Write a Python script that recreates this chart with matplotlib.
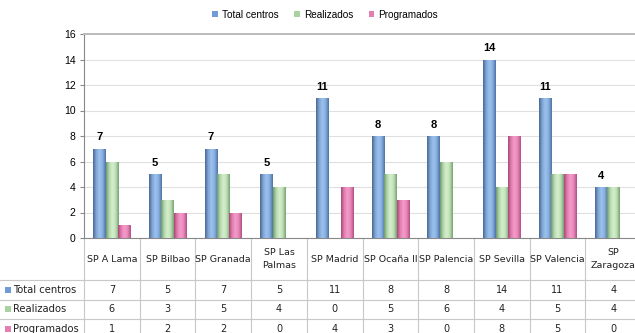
import matplotlib
matplotlib.use("Agg")
import numpy as np
import matplotlib.pyplot as plt
from matplotlib.patches import Patch
from matplotlib.colors import LinearSegmentedColormap
from matplotlib.transforms import blended_transform_factory

centros = ["SP A Lama", "SP Bilbao", "SP Granada", "SP Las\nPalmas", "SP Madrid",
           "SP Ocaña II", "SP Palencia", "SP Sevilla", "SP Valencia", "SP\nZaragoza"]
total = [7, 5, 7, 5, 11, 8, 8, 14, 11, 4]
realizados = [6, 3, 5, 4, 0, 5, 6, 4, 5, 4]
programados = [1, 2, 2, 0, 4, 3, 0, 8, 5, 0]
series_names = ["Total centros", "Realizados", "Programados"]

# cylinder-like shading: dark edge -> light centre -> dark edge
shades = [
    ["#4a6791", "#7fa6d6", "#9cc2ec", "#86aee0", "#4f73a3"],
    ["#6f9a6c", "#b5d9ad", "#d6eece", "#bfe0b6", "#77a273"],
    ["#a84878", "#e07fb0", "#f49bc9", "#e888bb", "#b04f80"],
]
solid = ["#6f9bd6", "#a8d3a0", "#e47fb4"]

W, H, DPI = 635, 333, 100
fig = plt.figure(figsize=(W / DPI, H / DPI), dpi=DPI)
L, R, T, B = 84, 641, 34, 238
ax = fig.add_axes([L / W, 1 - B / H, (R - L) / W, (B - T) / H])

x = np.arange(len(centros))
bw = 1 / 4.5
for k, vals in enumerate([total, realizados, programados]):
    cmap = LinearSegmentedColormap.from_list(f"s{k}", shades[k])
    grad = np.linspace(0, 1, 64).reshape(1, -1)
    bars = ax.bar(x + (k - 1) * bw, vals, bw, color=solid[k], linewidth=0, zorder=3)
    for b in bars:
        if b.get_height() == 0:
            continue
        im = ax.imshow(grad, extent=[b.get_x(), b.get_x() + b.get_width(), 0, b.get_height()],
                       aspect="auto", cmap=cmap, zorder=4, interpolation="bilinear")
        im.set_clip_path(b)

# labels over the total bars
for xi, v in zip(x, total):
    ax.annotate(str(v), (xi - bw, v), xytext=(0, 4.5), textcoords="offset points",
                ha="center", va="bottom", fontsize=8, fontweight="bold",
                family="Liberation Sans", color="black")

ax.set_xlim(-0.5, len(centros) - 0.5)
ax.set_ylim(0, 16)
ax.set_yticks(range(0, 17, 2))
ax.set_xticks([])
ax.yaxis.grid(True, color="#e0e0e0", lw=0.8, zorder=0)
ax.set_axisbelow(True)
for lab in ax.get_yticklabels():
    lab.set_fontsize(7.5)
    lab.set_family("Liberation Sans")
ax.tick_params(axis="y", length=3, width=0.8, color="#888888", pad=3)
ax.spines["left"].set_color("#888888")
ax.spines["bottom"].set_color("#888888")
ax.spines["top"].set_color("#bbbbbb")
ax.spines["top"].set_linewidth(1.4)
ax.spines["right"].set_visible(False)

# legend
handles = [Patch(fc=c, ec="none", label=n) for c, n in zip(solid, series_names)]
fig.legend(handles=handles, loc="center", bbox_to_anchor=(0.512, 1 - 15 / H), ncol=3,
           frameon=False, handlelength=0.55, handleheight=0.55, handletextpad=0.4,
           columnspacing=1.6, prop={"family": "Liberation Sans", "size": 7.2})

# data table under the plot
tr = blended_transform_factory(ax.transData, fig.transFigure)
fy = lambda py: 1 - py / H
line_kw = dict(color="#c8c8c8", lw=0.8, clip_on=False)
row_lines = [280, 299.5, 319, 338.5]
for py in row_lines:
    fig.add_artist(plt.Line2D([0, R / W], [fy(py), fy(py)], transform=fig.transFigure, **line_kw))
for xb in np.arange(-0.5, len(centros)):
    ax.plot([xb, xb], [fy(B), fy(row_lines[-1])], transform=tr, **line_kw)

tfont = dict(family="DejaVu Sans", color="#222222")
for xi, name in zip(x, centros):
    ax.text(xi, fy(259), name, transform=tr, ha="center", va="center",
            linespacing=1.45, size=6.8, **tfont)
rows = [total, realizados, programados]
for r, (vals, name, col) in enumerate(zip(rows, series_names, solid)):
    yc = fy((row_lines[r] + row_lines[r + 1]) / 2)
    for xi, v in zip(x, vals):
        ax.text(xi, yc, str(v), transform=tr, ha="center", va="center", size=7, **tfont)
    fig.add_artist(plt.Rectangle((5 / W, yc - 3 / H), 6 / W, 6 / H, fc=col, ec="none",
                                 transform=fig.transFigure))
    fig.text(13 / W, yc, name, ha="left", va="center", size=7.2, **tfont)

fig.savefig("out.png", dpi=DPI, facecolor="white")
